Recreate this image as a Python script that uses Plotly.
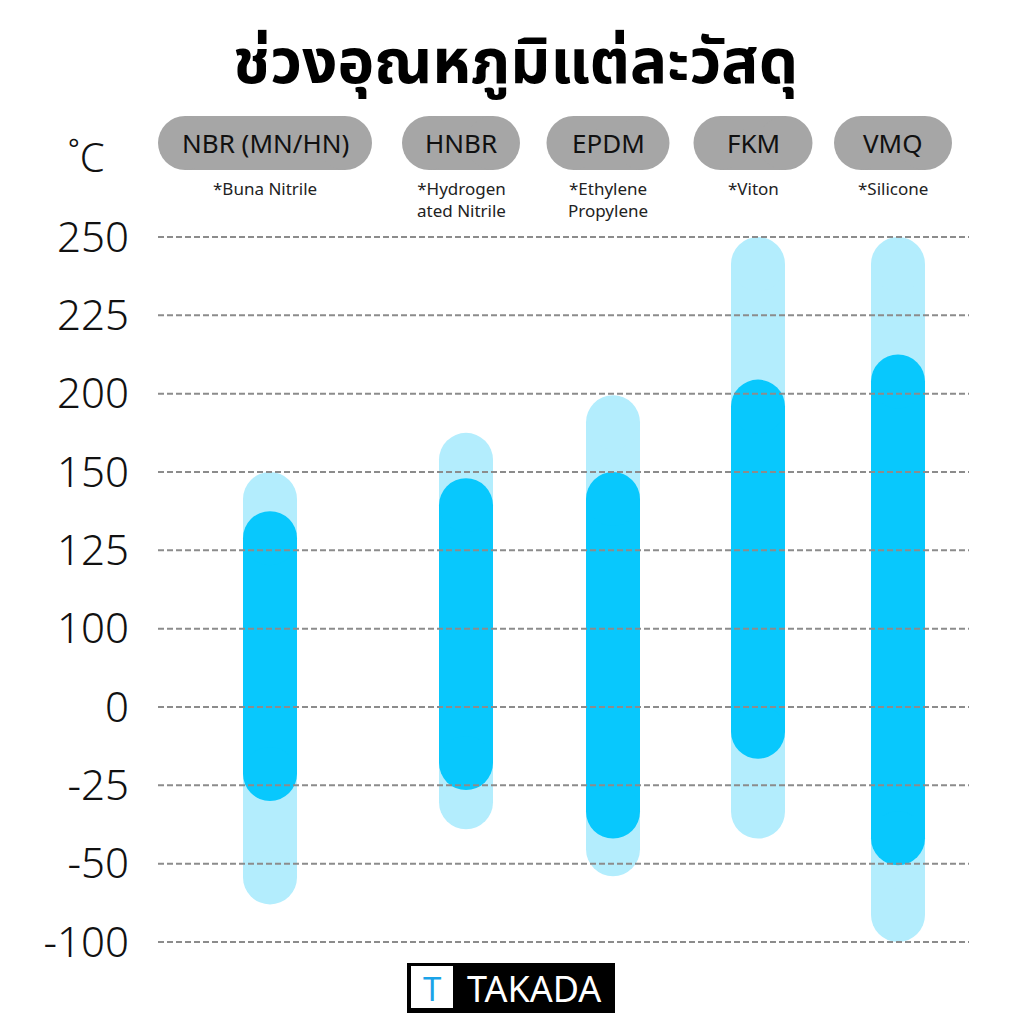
import numpy as np
import plotly.graph_objects as go

# ---------------- data ----------------
TITLE = "ช่วงอุณหภูมิแต่ละวัสดุ"
UNIT = "˚C"
MATERIALS = ["NBR (MN/HN)", "HNBR", "EPDM", "FKM", "VMQ"]
DESCRIPTIONS = ["*Buna Nitrile", "*Hydrogen<br>ated Nitrile", "*Ethylene<br>Propylene", "*Viton", "*Silicone"]
TICK_VALUES = [-100, -50, -25, 0, 100, 125, 150, 200, 225, 250]
TICK_LABELS = ["-100", "-50", "-25", "0", "100", "125", "150", "200", "225", "250"]
# full (extreme) range
MAX_LOW = [-76, -39, -58, -42, -100]
MAX_HIGH = [150, 175, 199, 250, 250]
# typical working range
TYP_LOW = [-30, -26.5, -42, -16.5, -51]
TYP_HIGH = [137.5, 148, 150, 204.5, 212.5]
BRAND = "TAKADA"

# ---------------- layout constants (page pixel units) ----------------
OFF = 8                                   # default page body margin
W = H = 1024 - 2 * OFF
PLOT_LEFT, PLOT_RIGHT = 158, 969
ML = PLOT_LEFT - OFF
MR = W - (PLOT_RIGHT - OFF)
COL_X = [270, 466, 613, 758, 898]        # column centres (x axis in page px units)
PILL_W = [214, 118, 123, 119, 118]
PILL_H = 54
PILL_CY = 143
BAR_W = 54
STEP = 78.33                              # px between ordinal ticks
GRID_BOTTOM_PX = 942
LIGHT = "#b3edfd"
DARK = "#08c8fd"
FONT = "Noto Sans, Lato, sans-serif"

pmin = -(H - (GRID_BOTTOM_PX - OFF)) / STEP
pmax = pmin + H / STEP
r_units = (BAR_W / 2) / STEP
positions = list(range(len(TICK_VALUES)))


def to_pos(v):
    return float(np.interp(v, TICK_VALUES, positions))


def py_to_paper(py):
    return 1 - (py - OFF) / H


def px_to_paper(px):
    return (px - PLOT_LEFT) / (PLOT_RIGHT - PLOT_LEFT)


fig = go.Figure()


def add_range(x, lo, hi, color):
    y0 = to_pos(lo) + r_units
    y1 = to_pos(hi) - r_units
    fig.add_trace(go.Scatter(
        x=[x, x], y=[y0, y1], mode="lines+markers",
        line=dict(color=color, width=BAR_W),
        marker=dict(color=color, size=BAR_W, line=dict(width=0)),
        hoverinfo="skip", showlegend=False, cliponaxis=False))


for i in range(len(MATERIALS)):
    add_range(COL_X[i], MAX_LOW[i], MAX_HIGH[i], LIGHT)
for i in range(len(MATERIALS)):
    add_range(COL_X[i], TYP_LOW[i], TYP_HIGH[i], DARK)

shapes = []
# dashed grid lines above the bars
for p in positions:
    shapes.append(dict(type="line", xref="paper", x0=0, x1=1, yref="y", y0=p, y1=p,
                       line=dict(color="#8c8c8c", width=2, dash="6px,3px"), layer="above"))

annotations = []
# pills
for i, name in enumerate(MATERIALS):
    cx = COL_X[i] - 5
    w = PILL_W[i]
    r = PILL_H / 2
    top = py_to_paper(PILL_CY - r)
    bot = py_to_paper(PILL_CY + r)
    shapes.append(dict(type="rect", xref="x", yref="paper", x0=cx - w / 2 + r, x1=cx + w / 2 - r,
                       y0=bot, y1=top, fillcolor="#a6a6a6", line=dict(width=0), layer="below"))
    for ccx in (cx - w / 2 + r, cx + w / 2 - r):
        shapes.append(dict(type="circle", xref="x", yref="paper", x0=ccx - r, x1=ccx + r,
                           y0=bot, y1=top, fillcolor="#a6a6a6", line=dict(width=0), layer="below"))
    annotations.append(dict(x=cx, y=py_to_paper(PILL_CY), xref="x", yref="paper", text=name,
                            showarrow=False, font=dict(family=FONT, size=26, color="#111111"),
                            xanchor="center", yanchor="middle"))
    annotations.append(dict(x=cx, y=py_to_paper(175), xref="x", yref="paper", text=DESCRIPTIONS[i],
                            showarrow=False, font=dict(family=FONT, size=17, color="#222222"),
                            xanchor="center", yanchor="top", align="center"))

# title
annotations.append(dict(x=px_to_paper(515), y=py_to_paper(64), xref="paper", yref="paper",
                        text="<b>" + TITLE + "</b>", showarrow=False,
                        font=dict(family="Noto Sans Thai, Noto Sans, sans-serif", size=62, color="#000000"),
                        xanchor="center", yanchor="middle"))
# unit
annotations.append(dict(x=px_to_paper(86), y=py_to_paper(156), xref="paper", yref="paper", text=UNIT,
                        showarrow=False, font=dict(family=FONT, size=40, color="#111111", weight=300),
                        xanchor="center", yanchor="middle"))

# brand logo
shapes.append(dict(type="rect", xref="x", yref="paper", x0=407, x1=615,
                   y0=py_to_paper(1013), y1=py_to_paper(963), fillcolor="#000000", line=dict(width=0)))
shapes.append(dict(type="rect", xref="x", yref="paper", x0=411, x1=453,
                   y0=py_to_paper(1008), y1=py_to_paper(966), fillcolor="#ffffff", line=dict(width=0)))
annotations.append(dict(x=432, y=py_to_paper(988), xref="x", yref="paper", text="T", showarrow=False,
                        font=dict(family=FONT, size=33, color="#1ba3e8"),
                        xanchor="center", yanchor="middle"))
annotations.append(dict(x=534, y=py_to_paper(988), xref="x", yref="paper", text=BRAND, showarrow=False,
                        font=dict(family=FONT, size=36, color="#ffffff"), xanchor="center", yanchor="middle"))

fig.update_layout(
    width=W, height=H,
    margin=dict(l=ML, r=MR, t=0, b=0, autoexpand=False),
    paper_bgcolor="white", plot_bgcolor="white",
    xaxis=dict(range=[PLOT_LEFT, PLOT_RIGHT], visible=False, fixedrange=True, automargin=False),
    yaxis=dict(range=[pmin, pmax], tickvals=positions, ticktext=TICK_LABELS,
               showgrid=False, zeroline=False, showline=False, ticks="",
               ticklabelstandoff=28, automargin=False,
               tickfont=dict(family=FONT, size=42, color="#111111", weight=300), fixedrange=True),
    shapes=shapes, annotations=annotations, showlegend=False,
)

fig.write_html("out.html")
